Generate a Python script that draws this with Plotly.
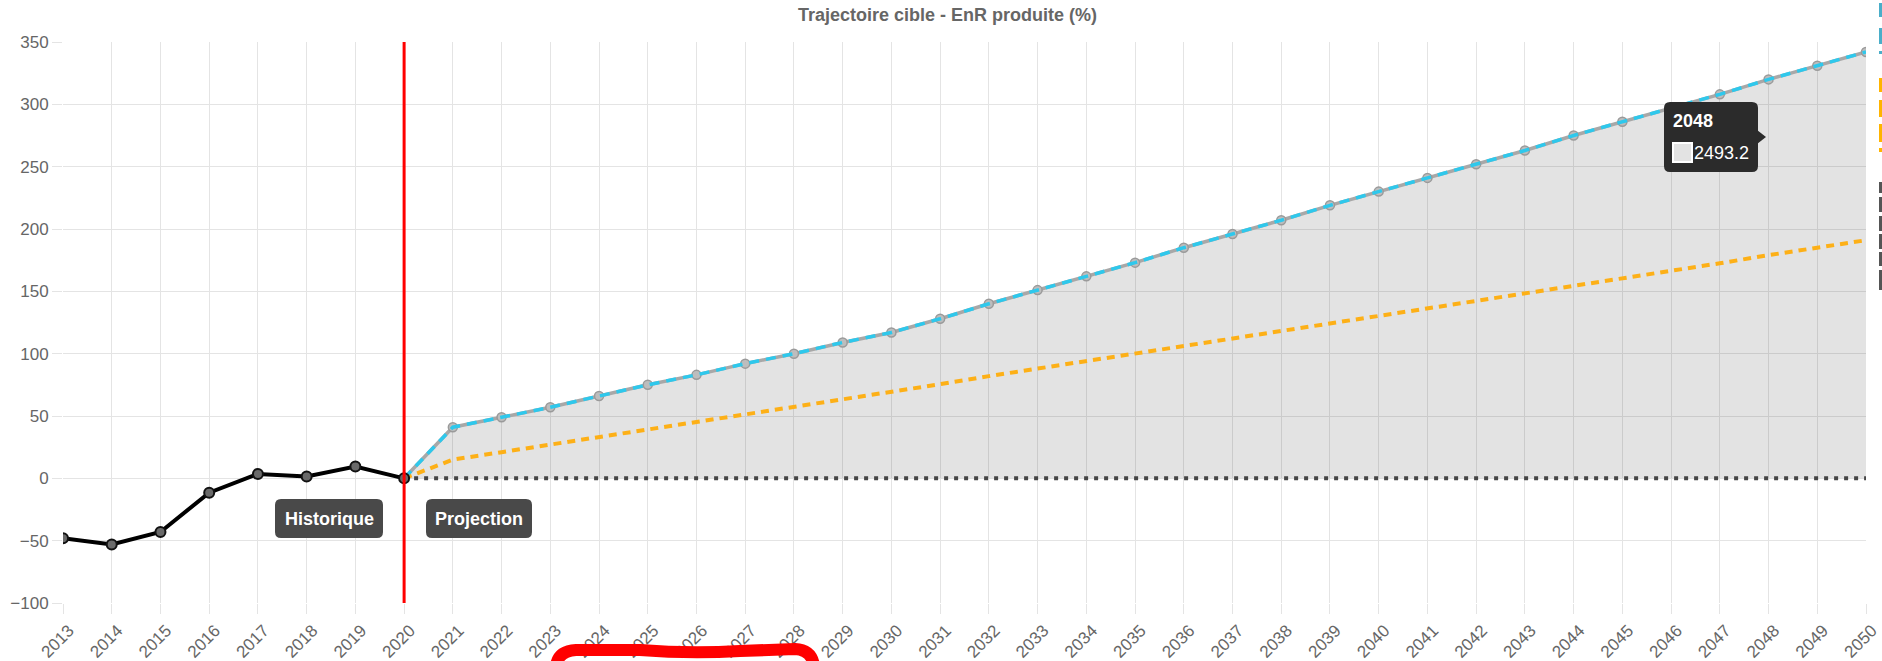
import plotly.graph_objects as go

# ---- data ----
years_hist = [2013, 2014, 2015, 2016, 2017, 2018, 2019, 2020]
hist_values = [-48, -53, -43, -11.5, 3.5, 1.5, 9.5, 0]

years_proj = list(range(2020, 2051))
target_values = [0, 41, 49, 57, 66, 75, 83, 92, 100, 109, 117, 128, 140, 151,
                 162, 173, 185, 196, 207, 219, 230, 241, 252, 263, 275, 286,
                 297, 308, 320, 331, 342]
trend_values = [0, 15, 21, 27, 33, 39, 45, 51, 57.5, 63.5, 69.5, 75.5, 82, 88,
                94, 100, 106, 112, 118, 124, 130, 136, 142, 148, 154, 160.5,
                166.5, 172.5, 179, 185, 191]
baseline_values = [0] * len(years_proj)

tick_years = list(range(2013, 2051))
y_ticks = [-100, -50, 0, 50, 100, 150, 200, 250, 300, 350]

title_text = "Trajectoire cible - EnR produite (%)"
label_hist = "Historique"
label_proj = "Projection"
tooltip_year = "2048"
tooltip_value = "2493.2"

# ---- page geometry (pixels) ----
W, H = 1882, 661
PL, PR, PT, PB = 63, 1866, 42, 603


def px(x):
    return (x - PL) / (PR - PL)


def py(y):
    return (PB - y) / (PB - PT)


def rounded_rect(x0, y0, x1, y1, r):
    a, b, c, d = px(x0), px(x1), py(y0), py(y1)
    rx = r / (PR - PL)
    ry = r / (PB - PT)
    return (f"M {a+rx},{c} L {b-rx},{c} Q {b},{c} {b},{c-ry} "
            f"L {b},{d+ry} Q {b},{d} {b-rx},{d} L {a+rx},{d} "
            f"Q {a},{d} {a},{d+ry} L {a},{c-ry} Q {a},{c} {a+rx},{c} Z")


FONT = "Liberation Sans, Arial, sans-serif"
GRID = "#e4e4e4"

fig = go.Figure()

# filled target area (gray outline + points)
fig.add_trace(go.Scatter(
    x=years_proj, y=target_values, mode="lines+markers",
    line=dict(color="#a8a8a8", width=3.5),
    marker=dict(size=9, color="#bdbdbd", line=dict(color="#9a9a9a", width=1.5)),
    fill="tozeroy", fillcolor="rgba(0,0,0,0.11)", hoverinfo="skip"))

# trend (orange dotted)
fig.add_trace(go.Scatter(
    x=years_proj, y=trend_values, mode="lines",
    line=dict(color="#fdb017", width=4, dash="8px,6px"), hoverinfo="skip"))

# baseline (dark dotted)
fig.add_trace(go.Scatter(
    x=years_proj, y=baseline_values, mode="lines",
    line=dict(color="#444444", width=4, dash="4px,6px"), hoverinfo="skip"))

# target (cyan dashed)
fig.add_trace(go.Scatter(
    x=years_proj, y=target_values, mode="lines",
    line=dict(color="#2ec8ec", width=3.5, dash="10px,7px"), hoverinfo="skip"))

# history (black)
fig.add_trace(go.Scatter(
    x=years_hist, y=hist_values, mode="lines+markers",
    line=dict(color="#000000", width=4),
    marker=dict(size=10, color="#6a6a6a", line=dict(color="#111111", width=2)),
    hoverinfo="skip"))

shapes = []
# vertical separator at 2020
shapes.append(dict(type="line", xref="x", yref="y", x0=2020, x1=2020,
                   y0=-100, y1=350, line=dict(color="#ff0000", width=3),
                   layer="above"))

# annotation boxes
shapes.append(dict(type="path", xref="paper", yref="paper",
                   path=rounded_rect(275, 499, 383, 538, 6),
                   fillcolor="#494949", line=dict(width=0), layer="above"))
shapes.append(dict(type="path", xref="paper", yref="paper",
                   path=rounded_rect(426, 499, 532, 538, 6),
                   fillcolor="#494949", line=dict(width=0), layer="above"))

# tooltip box with caret
shapes.append(dict(type="path", xref="paper", yref="paper",
                   path=rounded_rect(1664, 102, 1758, 172, 6),
                   fillcolor="#2b2b2b", line=dict(width=0), layer="above"))
shapes.append(dict(type="path", xref="paper", yref="paper",
                   path=f"M {px(1757)},{py(130)} L {px(1766)},{py(137)} L {px(1757)},{py(144)} Z",
                   fillcolor="#2b2b2b", line=dict(width=0), layer="above"))
shapes.append(dict(type="rect", xref="paper", yref="paper",
                   x0=px(1673), x1=px(1692), y0=py(162), y1=py(143),
                   fillcolor="#e3e3e3", line=dict(color="#ffffff", width=2),
                   layer="above"))

# legend swatches clipped at the right edge
legend_boxes = [
    ("#4aaec9", 3, 17), ("#4aaec9", 28, 44), ("#4aaec9", 51, 54),
    ("#ffb400", 78, 92), ("#ffb400", 100, 117), ("#ffb400", 124, 142),
    ("#ffb400", 148, 152),
    ("#555555", 182, 193), ("#555555", 197, 212), ("#555555", 216, 231),
    ("#555555", 234, 249), ("#555555", 252, 266), ("#555555", 270, 290),
]
for col, y0, y1 in legend_boxes:
    shapes.append(dict(type="rect", xref="paper", yref="paper",
                       x0=px(1879), x1=px(1886), y0=py(y1), y1=py(y0),
                       fillcolor=col, line=dict(width=0), layer="above"))

# red hand-drawn stroke under the axis labels
p = [(556, 666), (558, 651), (576, 650), (640, 650), (690, 654),
     (740, 651), (795, 649), (812, 650), (814, 666)]
red_path = (f"M {px(p[0][0])},{py(p[0][1])} "
            f"Q {px(p[1][0])},{py(p[1][1])} {px(p[2][0])},{py(p[2][1])} "
            f"L {px(p[3][0])},{py(p[3][1])} "
            f"Q {px(p[4][0])},{py(p[4][1])} {px(p[5][0])},{py(p[5][1])} "
            f"L {px(p[6][0])},{py(p[6][1])} "
            f"Q {px(p[7][0])},{py(p[7][1])} {px(p[8][0])},{py(p[8][1])}")
shapes.append(dict(type="path", xref="paper", yref="paper", path=red_path,
                   line=dict(color="#ff0000", width=12), layer="above"))

annotations = [
    dict(text=f"<b>{title_text}</b>", xref="paper", yref="paper",
         x=px(947), y=py(15), showarrow=False, xanchor="center", yanchor="middle",
         font=dict(family=FONT, size=18, color="#666666")),
    dict(text=f"<b>{label_hist}</b>", xref="paper", yref="paper",
         x=px(329), y=py(518.5), showarrow=False, xanchor="center", yanchor="middle",
         font=dict(family=FONT, size=18, color="#ffffff")),
    dict(text=f"<b>{label_proj}</b>", xref="paper", yref="paper",
         x=px(479), y=py(518.5), showarrow=False, xanchor="center", yanchor="middle",
         font=dict(family=FONT, size=18, color="#ffffff")),
    dict(text=f"<b>{tooltip_year}</b>", xref="paper", yref="paper",
         x=px(1671), y=py(121), showarrow=False, xanchor="left", yanchor="middle",
         font=dict(family=FONT, size=18, color="#ffffff")),
    dict(text=tooltip_value, xref="paper", yref="paper",
         x=px(1692), y=py(153), showarrow=False, xanchor="left", yanchor="middle",
         font=dict(family=FONT, size=18, color="#ffffff")),
]

fig.update_layout(
    width=W, height=H,
    margin=dict(l=PL, r=W - PR, t=PT, b=H - PB, pad=0, autoexpand=False),
    paper_bgcolor="#ffffff", plot_bgcolor="#ffffff",
    showlegend=False,
    shapes=shapes, annotations=annotations,
    xaxis=dict(range=[2013, 2050], tickmode="array", tickvals=tick_years,
               ticktext=[str(y) for y in tick_years], tickangle=-45,
               ticklabelshift=6,
               automargin=False,
               showgrid=True, gridcolor=GRID, gridwidth=1, zeroline=False,
               ticks="outside", ticklen=10, tickcolor=GRID, tickwidth=1,
               showline=False,
               tickfont=dict(family=FONT, size=17, color="#666666")),
    yaxis=dict(range=[-100, 350], tickmode="array", tickvals=y_ticks,
               automargin=False,
               showgrid=True, gridcolor=GRID, gridwidth=1, zeroline=False,
               ticks="outside", ticklen=10, tickcolor=GRID, tickwidth=1,
               showline=False,
               tickfont=dict(family=FONT, size=17, color="#666666")),
)

fig.write_html("out.html")
